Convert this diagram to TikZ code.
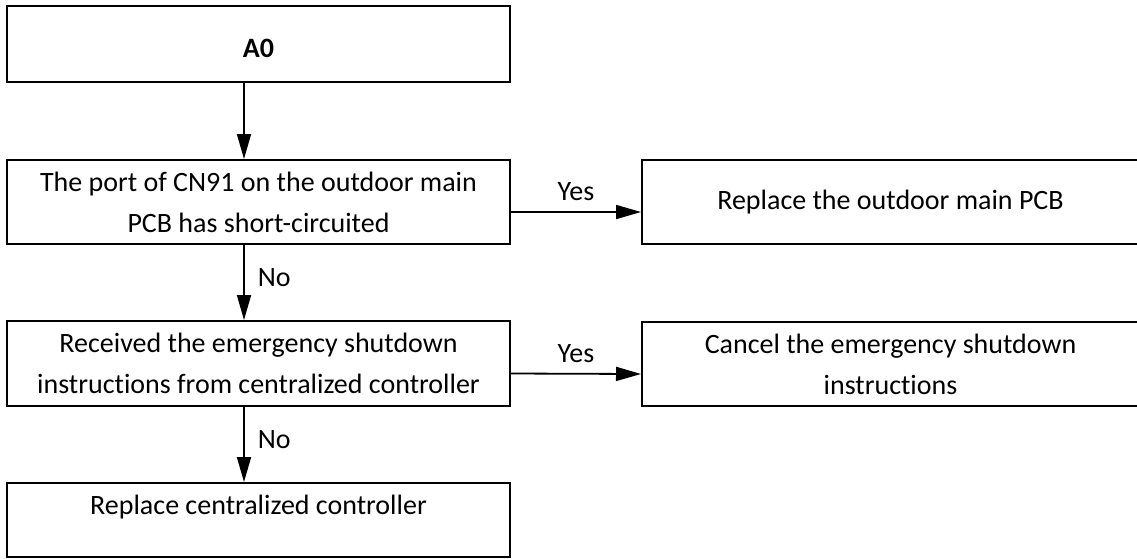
\documentclass[tikz,border=0pt]{standalone}
\usepackage{fontspec}
\setmainfont{Carlito}[Ligatures=NoCommon]
\usetikzlibrary{arrows.meta, positioning}

\begin{document}
\begin{tikzpicture}[x=1pt, y=-1pt,
    box/.style={draw, line width=2pt, inner sep=0pt, align=center,
      font=\fontsize{28}{41}\selectfont},
    leftbox/.style={box, minimum width=503pt},
    rightbox/.style={box, minimum width=497pt, minimum height=84pt},
    flow/.style={line width=1.8pt, -{Triangle[length=25pt, width=14pt]}},
    lab/.style={inner sep=0pt, font=\fontsize{28}{30}\selectfont}]
  \useasboundingbox (0,0) rectangle (1137,558);
  % Left column
  \node[leftbox, minimum height=76pt, text height=28pt] (start) at (258.5,44) {\textbf{A0}};
  \node[leftbox, minimum height=84pt] (port) at (258.5,202)
        {The port of CN91 on the outdoor main\\PCB has short-circuited};
  \node[leftbox, minimum height=85pt] (recv) at (258.5,363.5)
        {Received the emergency shutdown\\instructions from centralized controller};
  \node[leftbox, minimum height=74pt, text depth=30pt] (ctrl) at (258.5,520)
        {Replace centralized controller};
  % Right column
  \node[rightbox] (pcb) at (890.5,202) {Replace the outdoor main PCB};
  \node[rightbox] (cancel) at (890.5,364)
        {Cancel the emergency shutdown\\instructions};
  % Downward flow
  \draw[flow] ([xshift=-14.5pt]start.south) -- ([xshift=-14.5pt]port.north);
  \draw[flow] ([xshift=-14.5pt]port.south) -- ([xshift=-14.5pt]recv.north)
        node[lab, pos=0.43, right=13pt] {No};
  \draw[flow] ([xshift=-14.5pt]recv.south) -- ([xshift=-14.5pt]ctrl.north)
        node[lab, pos=0.43, right=13pt] {No};
  % Yes branches
  \draw[flow] ([yshift=-10pt]port.east) -- ([yshift=-10pt]pcb.west)
        node[lab, midway, above=10pt] {Yes};
  \draw[flow] ([yshift=-10pt]recv.east) -- ([yshift=-10pt]cancel.west)
        node[lab, midway, above=10pt] {Yes};
\end{tikzpicture}
\end{document}
